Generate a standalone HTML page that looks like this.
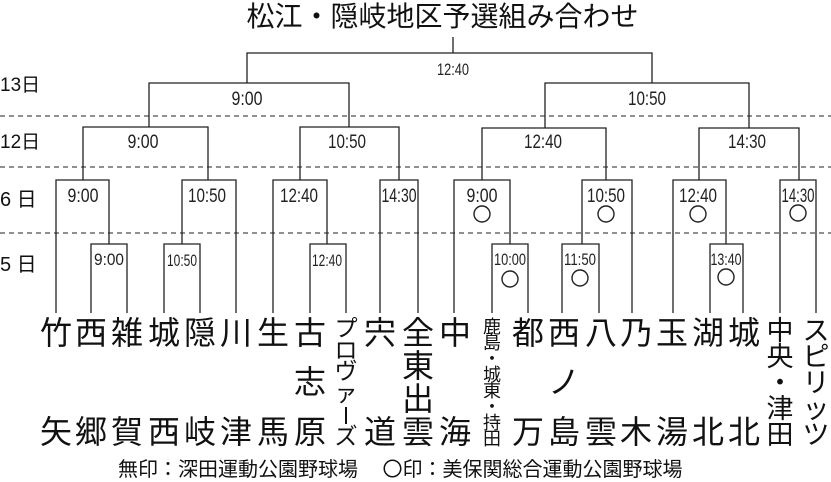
<!DOCTYPE html>
<html><head><meta charset="utf-8">
<style>
body{margin:0;background:#fff;}
#w{position:relative;width:831px;height:482px;overflow:hidden;background:#fff;font-family:"Liberation Sans","Noto Sans CJK JP",sans-serif;color:#111;}
.c{position:absolute;width:40px;text-align:center;white-space:nowrap;font-family:"Noto Sans CJK JP",sans-serif;}
.b{font-size:32px;line-height:32px;}
</style></head><body><div id="w">
<svg width="831" height="482" style="position:absolute;left:0;top:0" font-family="Liberation Sans, sans-serif" fill="none" stroke="#222" stroke-width="1.3">
<g stroke-dasharray="5,4" stroke-width="1">
<line x1="0" y1="116" x2="831" y2="116"/><line x1="0" y1="167" x2="831" y2="167"/><line x1="0" y1="233" x2="831" y2="233"/>
</g>
<path d="M453 37V53M247 83V53H652V83"/>
<path d="M149 127V83H349V127"/><path d="M545 128V83H749V128"/>
<path d="M83 180V127H208V180"/><path d="M300 180V127H399V180"/>
<path d="M482 180V128H606V180"/><path d="M699 180V128H799V180"/>
<path d="M56 313V180H109V244"/><path d="M182 244V180H236V313"/>
<path d="M273 313V180H327V244"/><path d="M380 313V180H418V313"/>
<path d="M454 313V180H510V244"/><path d="M582 244V180H632V313"/>
<path d="M673 313V180H726V244"/><path d="M780 313V180H816V313"/>
<path d="M91 313V244H127V313"/><path d="M164 313V244H200V313"/><path d="M310 313V244H346V313"/>
<path d="M492 313V244H528V313"/><path d="M562 313V244H599V313"/><path d="M710 313V244H743V313"/>
<g stroke-width="1.4"><circle cx="482" cy="214" r="8"/><circle cx="606" cy="214" r="8"/><circle cx="698" cy="214" r="8"/><circle cx="798" cy="213" r="8"/>
<circle cx="510" cy="279" r="8"/><circle cx="580" cy="278" r="8"/><circle cx="726" cy="277" r="8"/></g>
<g fill="#222" stroke="none" font-size="19" text-anchor="middle" lengthAdjust="spacingAndGlyphs">
<text x="453" y="75" font-size="17" textLength="32" lengthAdjust="spacingAndGlyphs">12:40</text>
<text x="247" y="105" textLength="31" lengthAdjust="spacingAndGlyphs">9:00</text><text x="647" y="105" textLength="38" lengthAdjust="spacingAndGlyphs">10:50</text>
<text x="143" y="148" textLength="31" lengthAdjust="spacingAndGlyphs">9:00</text><text x="347" y="148" textLength="38" lengthAdjust="spacingAndGlyphs">10:50</text><text x="543" y="148" textLength="38" lengthAdjust="spacingAndGlyphs">12:40</text><text x="747" y="148" textLength="38" lengthAdjust="spacingAndGlyphs">14:30</text>
<text x="83" y="202" textLength="31" lengthAdjust="spacingAndGlyphs">9:00</text><text x="207" y="202" textLength="38" lengthAdjust="spacingAndGlyphs">10:50</text><text x="299" y="202" textLength="38" lengthAdjust="spacingAndGlyphs">12:40</text><text x="399" y="202" textLength="35" lengthAdjust="spacingAndGlyphs">14:30</text>
<text x="482" y="202" textLength="31" lengthAdjust="spacingAndGlyphs">9:00</text><text x="606" y="202" textLength="38" lengthAdjust="spacingAndGlyphs">10:50</text><text x="698" y="202" textLength="38" lengthAdjust="spacingAndGlyphs">12:40</text><text x="798" y="202" textLength="33" lengthAdjust="spacingAndGlyphs">14:30</text>
<g font-size="17"><text x="109" y="265" textLength="30" lengthAdjust="spacingAndGlyphs">9:00</text><text x="182" y="266" textLength="30" lengthAdjust="spacingAndGlyphs">10:50</text><text x="327" y="266" textLength="30" lengthAdjust="spacingAndGlyphs">12:40</text>
<text x="510" y="265" textLength="32" lengthAdjust="spacingAndGlyphs">10:00</text><text x="580" y="265" textLength="32" lengthAdjust="spacingAndGlyphs">11:50</text><text x="726" y="265" textLength="31" lengthAdjust="spacingAndGlyphs">13:40</text></g>
</g>
</svg>
<div style="position:absolute;left:0;top:-2px;width:831px;text-align:center;font-size:28px;line-height:34px;padding-left:54px;box-sizing:border-box;font-family:'Noto Sans CJK JP',sans-serif;">松江・隠岐地区予選組み合わせ</div>
<div style="position:absolute;left:0;font-size:19px;line-height:20px;top:76px">13日</div>
<div style="position:absolute;left:0;font-size:19px;line-height:20px;top:133px">12日</div>
<div style="position:absolute;left:0;font-size:20px;line-height:20px;top:190px">6 日</div>
<div style="position:absolute;left:0;font-size:20px;line-height:20px;top:255px">5 日</div>

<!-- two-char columns: top at 315, bottom at 414 -->
<div class="c b" style="left:36px;top:315px">竹</div><div class="c b" style="left:36px;top:414px">矢</div>
<div class="c b" style="left:71px;top:315px">西</div><div class="c b" style="left:71px;top:414px">郷</div>
<div class="c b" style="left:107px;top:315px">雑</div><div class="c b" style="left:107px;top:414px">賀</div>
<div class="c b" style="left:144px;top:315px">城</div><div class="c b" style="left:144px;top:414px">西</div>
<div class="c b" style="left:180px;top:315px">隠</div><div class="c b" style="left:180px;top:414px">岐</div>
<div class="c b" style="left:216px;top:315px">川</div><div class="c b" style="left:216px;top:414px">津</div>
<div class="c b" style="left:253px;top:315px">生</div><div class="c b" style="left:253px;top:414px">馬</div>
<div class="c b" style="left:290px;top:315px">古</div><div class="c b" style="left:290px;top:364px">志</div><div class="c b" style="left:290px;top:414px">原</div>
<div class="c" style="left:326px;top:316px;font-size:23px;line-height:21.5px">プ<br>ロ<br>ヴ<br>ァ<br><span style="display:inline-block;width:2px;height:17px;background:#111;vertical-align:middle"></span><br>ズ</div>
<div class="c b" style="left:360px;top:315px">宍</div><div class="c b" style="left:360px;top:414px">道</div>
<div class="c" style="left:398px;top:315px;font-size:32px;line-height:33px">全<br>東<br>出<br>雲</div>
<div class="c b" style="left:435px;top:315px">中</div><div class="c b" style="left:435px;top:414px">海</div>
<div class="c" style="left:472px;top:318px;font-size:18px;line-height:16px">鹿<br>島<br>・<br>城<br>東<br>・<br>持<br>田</div>
<div class="c b" style="left:508px;top:315px">都</div><div class="c b" style="left:508px;top:414px">万</div>
<div class="c b" style="left:544px;top:315px">西</div><div class="c b" style="left:544px;top:364px">ノ</div><div class="c b" style="left:544px;top:414px">島</div>
<div class="c b" style="left:581px;top:315px">八</div><div class="c b" style="left:581px;top:414px">雲</div>
<div class="c b" style="left:616px;top:315px">乃</div><div class="c b" style="left:616px;top:414px">木</div>
<div class="c b" style="left:652px;top:315px">玉</div><div class="c b" style="left:652px;top:414px">湯</div>
<div class="c b" style="left:688px;top:315px">湖</div><div class="c b" style="left:688px;top:414px">北</div>
<div class="c b" style="left:724px;top:315px">城</div><div class="c b" style="left:724px;top:414px">北</div>
<div class="c" style="left:760px;top:316px;font-size:27px;line-height:26px">中<br>央<br>・<br>津<br>田</div>
<div class="c" style="left:796px;top:316px;font-size:27px;line-height:26px">ス<br>ピ<br>リ<br>ッ<br>ツ</div>

<div style="position:absolute;left:118px;top:456px;width:640px;font-size:20px;line-height:24px;white-space:nowrap;font-family:'Noto Sans CJK JP',sans-serif;">無印：深田運動公園野球場　 〇印：美保関総合運動公園野球場</div>
</div></body></html>
